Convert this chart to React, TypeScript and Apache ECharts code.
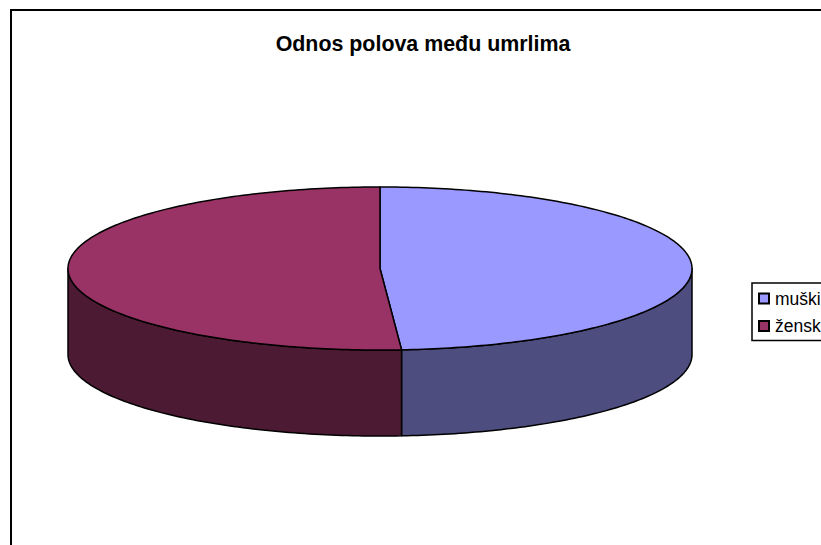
import React, { useEffect, useRef } from "react";
import * as echarts from "echarts";

const TITLE = "Odnos polova među umrlima";
const categories = ["muški", "ženski"];
const values = [48.9, 51.1];
const topColors = ["#9999FF", "#993366"];
const wallColors = ["#4D4D80", "#4D1A33"];

const CX = 380;
const CY = 268.5;
const RX = 312;
const RY = 81.5;
const DEPTH = 86;

const total = values.reduce((a, b) => a + b, 0);

function rim(deg: number, dy = 0): number[] {
  const r = (deg * Math.PI) / 180;
  return [CX + RX * Math.sin(r), CY - RY * Math.cos(r) + dy];
}

function arc(a: number, b: number, dy = 0): number[][] {
  const pts: number[][] = [];
  const n = Math.max(2, Math.ceil(Math.abs(b - a)));
  for (let i = 0; i <= n; i++) pts.push(rim(a + ((b - a) * i) / n, dy));
  return pts;
}

function makeRender(index: number) {
  return (_params: any, api: any) => {
    const before = values.slice(0, index).reduce((a, b) => a + b, 0);
    const start = (before / total) * 360;
    const end = start + (api.value(0) / total) * 360;
    const stroke = { stroke: "#000", lineWidth: 1.5, lineJoin: "round" };
    const children: any[] = [];
    const wa = Math.max(start, 90);
    const wb = Math.min(end, 270);
    if (wb > wa) {
      children.push({
        type: "polygon",
        shape: { points: [...arc(wa, wb), ...arc(wb, wa, DEPTH)] },
        style: { fill: wallColors[index], ...stroke },
      });
    }
    children.push({
      type: "polygon",
      shape: { points: [[CX, CY], ...arc(start, end)] },
      style: { fill: topColors[index], ...stroke },
    });
    return { type: "group", children };
  };
}

export default function App() {
  const ref = useRef<HTMLDivElement>(null);
  useEffect(() => {
    const chart = echarts.init(ref.current!, null, { renderer: "svg" });
    chart.setOption({
      animation: false,
      backgroundColor: "#fff",
      title: {
        text: TITLE,
        left: 418,
        top: 28,
        textAlign: "center",
        textStyle: { fontFamily: "Liberation Sans", fontSize: 21.4, fontWeight: "bold", color: "#000" },
      },
      legend: {
        orient: "vertical",
        left: 752,
        top: 283,
        padding: [6.5, 30, 5.5, 6],
        itemWidth: 10,
        itemHeight: 10,
        itemGap: 9.5,
        selectedMode: false,
        borderColor: "#000",
        borderWidth: 1.5,
        backgroundColor: "#fff",
        icon: "rect",
        data: categories,
        textStyle: { fontFamily: "Liberation Sans", fontSize: 17.5, color: "#000", padding: [0, 0, 0, 1] },
      },
      graphic: [
        {
          type: "rect",
          silent: true,
          z: -1,
          shape: { x: 11, y: 10, width: 900, height: 700 },
          style: { fill: "#fff", stroke: "#000", lineWidth: 2 },
        },
      ],
      series: categories.map((name, i) => ({
        type: "custom",
        name,
        coordinateSystem: "none",
        renderItem: makeRender(i),
        itemStyle: { color: topColors[i], borderColor: "#000", borderWidth: 1.5 },
        data: [[values[i]]],
      })),
    });
    return () => chart.dispose();
  }, []);
  return <div ref={ref} style={{ position: "fixed", left: 0, top: 0, width: 821, height: 545 }} />;
}
